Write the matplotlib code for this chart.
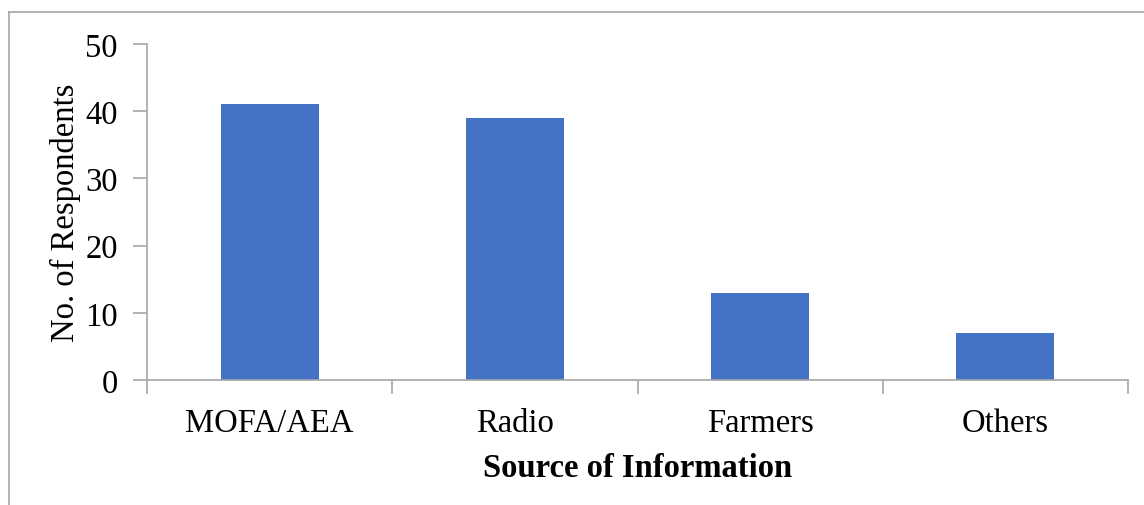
import matplotlib.pyplot as plt
from matplotlib.lines import Line2D

plt.rcParams['font.family'] = ['Liberation Serif', 'DejaVu Serif']

sources = ["MOFA/AEA", "Radio", "Farmers", "Others"]
respondents = [41, 39, 13, 7]

W, H = 1144, 506
fig = plt.figure(figsize=(W / 100, H / 100), dpi=100)
ax = fig.add_axes([147 / W, 1 - 381 / H, (1128 - 147) / W, (381 - 45) / H])

x = range(len(sources))
ax.bar(x, respondents, width=0.4, color="#4472c4", zorder=2)

ax.set_xlim(-0.5, len(sources) - 0.5)
ax.set_ylim(0, 50)
ax.set_yticks(range(0, 51, 10))
ax.set_xticks(x)
ax.set_xticklabels(sources)
ax.set_xticks([i - 0.5 for i in range(len(sources) + 1)], minor=True)

grey = "#a6a6a6"
for side in ["top", "right"]:
    ax.spines[side].set_visible(False)
for side in ["left", "bottom"]:
    ax.spines[side].set_color(grey)
    ax.spines[side].set_linewidth(1.2)

ax.tick_params(axis="y", length=10, width=1.2, color=grey, labelsize=23.5, pad=11)
ax.tick_params(axis="x", which="major", length=0, labelsize=23.5, pad=20)
ax.tick_params(axis="x", which="minor", length=10, width=1.2, color=grey)

ax.set_ylabel("No. of Respondents", fontsize=23.5, labelpad=3)
ax.set_xlabel("Source of Information", fontsize=23.5, fontweight="bold", labelpad=10)

# outer chart border (top and left edges)
fig.add_artist(Line2D([9 / W, 9 / W], [0, 1 - 13 / H], transform=fig.transFigure,
                      color=grey, lw=1.2))
fig.add_artist(Line2D([9 / W, 1], [1 - 13 / H, 1 - 13 / H], transform=fig.transFigure,
                      color=grey, lw=1.2))

fig.savefig("out.png", dpi=100)
